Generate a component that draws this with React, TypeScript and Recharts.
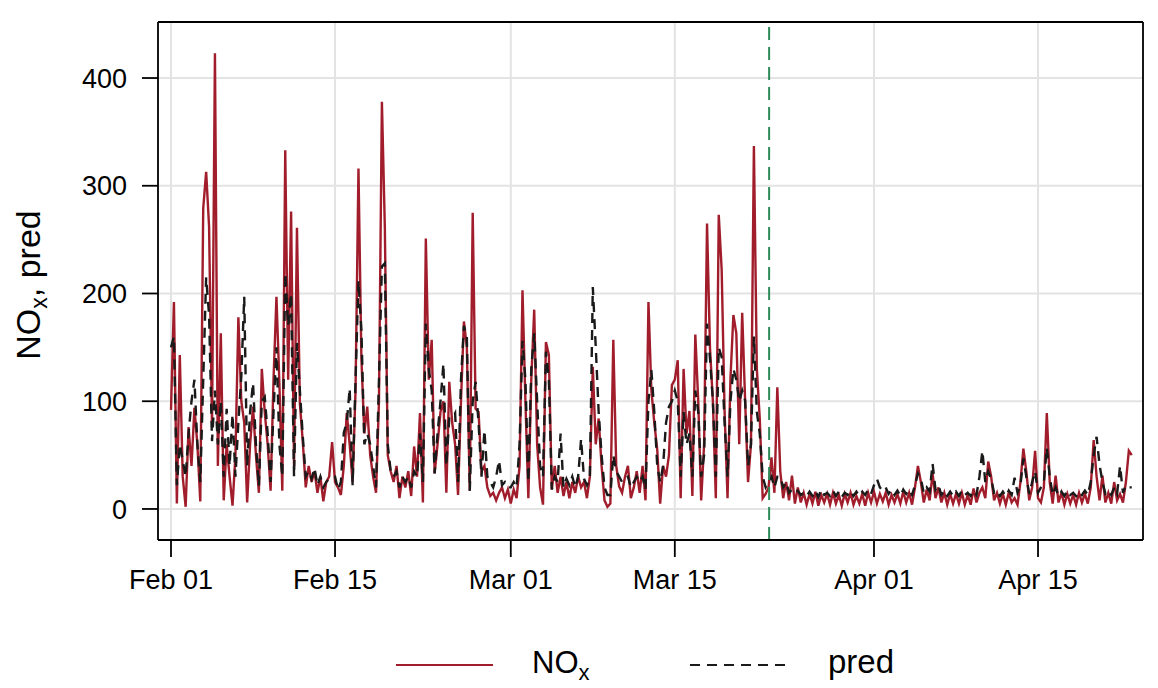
import React from "react";
import { LineChart, Line, XAxis, YAxis, CartesianGrid, ReferenceLine } from "recharts";

// 4 samples per day (00, 06, 12, 18h) starting Feb 01
const nox: number[] = [
  92, 192, 5, 143, 30, 2, 76, 40, 94, 60, 7, 279, 313, 262, 76, 423,
  40, 163, 8, 60, 30, 3, 50, 178, 100, 80, 6, 60, 95, 50, 15, 130,
  90, 60, 17, 120, 197, 117, 17, 333, 120, 276, 40, 261, 98, 62, 20, 40,
  25, 35, 15, 30, 7, 25, 30, 62, 25, 20, 13, 40, 89, 60, 25, 110,
  316, 140, 70, 95, 50, 30, 15, 100, 378, 262, 50, 35, 25, 40, 10, 30,
  20, 35, 12, 58, 30, 89, 6, 251, 120, 157, 33, 60, 90, 100, 15, 118,
  80, 60, 13, 100, 174, 150, 17, 275, 93, 90, 35, 40, 20, 12, 15, 8,
  15, 20, 10, 18, 5, 18, 10, 40, 203, 100, 10, 120, 185, 60, 20, 4,
  155, 143, 18, 40, 15, 30, 12, 25, 10, 25, 15, 30, 20, 25, 10, 30,
  132, 60, 84, 40, 8, 2, 5, 157, 40, 21, 15, 30, 40, 10, 20, 35,
  15, 40, 8, 192, 110, 80, 55, 5, 40, 30, 50, 115, 120, 138, 10, 130,
  70, 91, 12, 162, 100, 8, 60, 265, 150, 100, 10, 273, 222, 90, 10, 121,
  180, 163, 60, 182, 101, 25, 60, 337, 130, 84, 10, 14, 20, 48, 15, 113,
  35, 10, 25, 8, 31, 5, 20, 6, 15, 4, 14, 5, 16, 3, 13, 6,
  14, 4, 15, 5, 13, 3, 14, 6, 15, 4, 12, 5, 14, 3, 15, 6,
  16, 5, 14, 7, 15, 4, 13, 6, 14, 5, 16, 6, 15, 4, 20, 40,
  25, 6, 18, 8, 33, 10, 20, 6, 15, 4, 14, 5, 14, 5, 15, 4,
  13, 4, 19, 6, 15, 20, 10, 44, 30, 8, 15, 5, 14, 4, 15, 6,
  10, 4, 25, 56, 35, 8, 20, 54, 10, 6, 20, 89, 25, 5, 31, 6,
  15, 4, 14, 5, 13, 4, 15, 6, 14, 5, 20, 64, 30, 8, 31, 6,
  15, 5, 25, 8, 14, 6, 25, 54, 50,
];

const pred: number[] = [
  150, 160, 22, 60, 45, 30, 70, 100, 120, 60, 25, 120, 215, 180, 63, 110,
  60, 100, 30, 93, 40, 88, 30, 80, 123, 197, 40, 90, 117, 60, 21, 100,
  104, 70, 25, 90, 150, 60, 30, 219, 170, 200, 30, 154, 110, 67, 30, 35,
  28, 38, 22, 30, 20, 25, 28, 30, 30, 18, 25, 71, 80, 112, 22, 120,
  212, 166, 60, 70, 60, 40, 20, 120, 225, 228, 60, 35, 30, 35, 20, 30,
  25, 30, 20, 35, 30, 70, 25, 172, 130, 110, 33, 70, 100, 135, 40, 84,
  84, 89, 25, 120, 170, 160, 17, 100, 118, 80, 30, 73, 30, 25, 20, 30,
  45, 22, 25, 20, 20, 25, 20, 60, 156, 120, 25, 130, 163, 100, 40, 30,
  146, 120, 18, 30, 25, 70, 20, 28, 22, 30, 20, 30, 65, 28, 22, 30,
  206, 151, 90, 50, 20, 13, 13, 50, 35, 30, 25, 28, 30, 20, 25, 30,
  25, 30, 18, 100, 129, 90, 40, 25, 40, 80, 95, 100, 110, 100, 30, 90,
  60, 70, 30, 110, 90, 30, 50, 172, 140, 100, 30, 150, 141, 80, 30, 100,
  130, 120, 100, 110, 101, 40, 60, 160, 90, 70, 30, 20, 25, 30, 20, 30,
  30, 20, 25, 15, 18, 15, 17, 13, 15, 12, 16, 12, 17, 11, 18, 13,
  15, 12, 17, 12, 16, 11, 15, 13, 17, 12, 16, 12, 16, 13, 18, 14,
  22, 28, 20, 17, 20, 14, 18, 13, 17, 12, 18, 14, 18, 13, 22, 33,
  28, 15, 20, 16, 42, 18, 22, 13, 17, 12, 16, 12, 16, 12, 17, 13,
  15, 12, 17, 13, 30, 54, 25, 35, 28, 15, 17, 12, 16, 12, 17, 13,
  29, 15, 22, 47, 30, 14, 25, 35, 15, 20, 25, 57, 30, 13, 20, 12,
  16, 12, 17, 13, 15, 12, 16, 13, 17, 13, 25, 50, 67, 41, 25, 14,
  17, 13, 20, 14, 40, 15, 22, 20, 20,
];

const dateTicks = [0, 14, 29, 43, 60, 74];
const dateLabels = ["Feb 01", "Feb 15", "Mar 01", "Mar 15", "Apr 01", "Apr 15"];
const yTicks = [0, 100, 200, 300, 400];
const cutDay = 51.05;

const chartData = nox.map((v, i) => ({ day: i / 4, nox: v, pred: pred[i] }));

const font = "'Liberation Sans', Arial, sans-serif";
const tickStyle = { fill: "#000", fontSize: 27, fontFamily: font };
const red = "#A11D2B";
const xDomain: [number, number] = [-1.11, 82.96];
const yDomain: [number, number] = [-28.8, 452];

const fmtDate = (d: number) => dateLabels[dateTicks.indexOf(d)] ?? "";

export default function App() {
  return (
    <div style={{ position: "absolute", left: 0, top: 0, width: 1158, height: 688, background: "#fff" }}>
      <LineChart width={1158} height={688} data={chartData} margin={{ top: 21, right: 14, bottom: 88, left: 0 }}>
        <CartesianGrid stroke="#e3e3e3" strokeWidth={2} />
        <XAxis
          dataKey="day"
          type="number"
          domain={xDomain}
          allowDataOverflow
          ticks={dateTicks}
          tickFormatter={fmtDate}
          height={60}
          tickSize={17}
          tickMargin={13}
          tick={tickStyle}
          stroke="#000"
          strokeWidth={1.8}
          interval={0}
        />
        <XAxis
          xAxisId="top"
          dataKey="day"
          type="number"
          orientation="top"
          domain={xDomain}
          allowDataOverflow
          ticks={dateTicks}
          height={1}
          tickSize={17}
          tick={false}
          stroke="#000"
          strokeWidth={1.8}
          interval={0}
        />
        <YAxis
          type="number"
          domain={yDomain}
          allowDataOverflow
          ticks={yTicks}
          width={158}
          tickSize={16}
          tickMargin={15}
          tick={tickStyle}
          stroke="#000"
          strokeWidth={1.8}
          interval={0}
        />
        <YAxis
          yAxisId="right"
          orientation="right"
          type="number"
          domain={yDomain}
          allowDataOverflow
          ticks={yTicks}
          width={1}
          tickSize={16}
          tick={false}
          stroke="#000"
          strokeWidth={1.8}
          interval={0}
        />
        <Line type="linear" dataKey="nox" stroke={red} strokeWidth={2.4} dot={false} isAnimationActive={false} />
        <Line
          type="linear"
          dataKey="pred"
          stroke="#1a1a1a"
          strokeWidth={2.4}
          strokeDasharray="10 7"
          dot={false}
          isAnimationActive={false}
        />
        <ReferenceLine x={cutDay} stroke="#2E8B57" strokeWidth={2} strokeDasharray="13 7" />
      </LineChart>
      <svg width={1158} height={688} style={{ position: "absolute", left: 0, top: 0, pointerEvents: "none" }}>
        <text
          x={40}
          y={285}
          transform="rotate(-90, 40, 285)"
          textAnchor="middle"
          fontFamily={font}
          fontSize={34}
          fill="#000"
        >
          NO<tspan fontSize={23} dy={7}>x</tspan>
          <tspan dy={-7}>, pred</tspan>
        </text>
        <line x1={396} x2={493} y1={665} y2={665} stroke={red} strokeWidth={2} />
        <text x={532} y={673} fontFamily={font} fontSize={31} fill="#000">
          NO<tspan fontSize={22} dy={7}>x</tspan>
        </text>
        <line x1={690} x2={789} y1={665} y2={665} stroke="#1a1a1a" strokeWidth={2} strokeDasharray="10 7" />
        <text x={828} y={673} fontFamily={font} fontSize={33} fill="#000">
          pred
        </text>
      </svg>
    </div>
  );
}
